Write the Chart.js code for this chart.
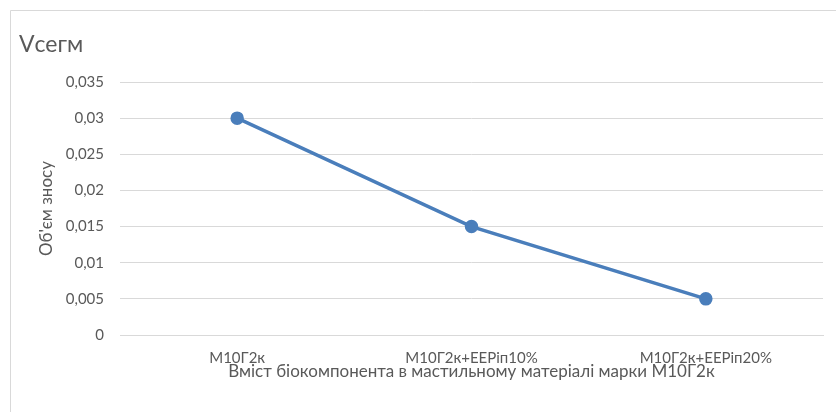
<!DOCTYPE html>
<html>
<head>
<meta charset="utf-8">
<script src="https://cdn.jsdelivr.net/npm/chart.js@4.4.1/dist/chart.umd.min.js"></script>
<style>
  html, body { margin: 0; padding: 0; background: #ffffff; }
  #wrap { width: 836px; height: 412px; position: relative; }
</style>
</head>
<body>
<div id="wrap"><canvas id="chart" width="836" height="412"></canvas></div>
<script>
// Wear volume per lubricant sample
const categories = ['М10Г2к', 'М10Г2к+EEPiп10%', 'М10Г2к+EEPiп20%'];
const wearVolume = [0.03, 0.015, 0.005];
const yTicks = [0, 0.005, 0.01, 0.015, 0.02, 0.025, 0.03, 0.035];

const chartTitle = 'Vсегм';
const yTitle = 'Об\'єм зносу';
const xTitle = 'Вміст біокомпонента в мастильному матеріалі марки М10Г2к';

const FONT = 'Lato, "Open Sans", sans-serif';
const TEXT = '#595959';
const GRID = '#d9d9d9';

// Frame lines and the chart title drawn on the canvas
const framePlugin = {
  id: 'frame',
  beforeDraw(chart) {
    const ctx = chart.ctx;
    ctx.save();
    ctx.fillStyle = '#ffffff';
    ctx.fillRect(0, 0, chart.width, chart.height);
    ctx.strokeStyle = '#d9d9d9';
    ctx.lineWidth = 1;
    ctx.beginPath();
    ctx.moveTo(10.5, 412);
    ctx.lineTo(10.5, 10.5);
    ctx.lineTo(836, 10.5);
    ctx.stroke();
    ctx.fillStyle = TEXT;
    ctx.font = '23px ' + FONT;
    ctx.textBaseline = 'middle';
    ctx.textAlign = 'left';
    ctx.fillText(chartTitle, 19, 45);
    ctx.restore();
  }
};

new Chart(document.getElementById('chart'), {
  type: 'line',
  data: {
    labels: categories,
    datasets: [{
      data: wearVolume,
      borderColor: '#4a7ebb',
      backgroundColor: '#4a7ebb',
      borderWidth: 3.5,
      pointRadius: 5,
      pointHoverRadius: 5,
      pointBackgroundColor: '#4a7ebb',
      pointBorderColor: '#4a7ebb',
      tension: 0,
      fill: false
    }]
  },
  options: {
    responsive: false,
    animation: false,
    devicePixelRatio: 1,
    layout: { padding: { left: 11, right: 13, top: 82, bottom: 32 } },
    plugins: {
      legend: { display: false },
      title: { display: false },
      tooltip: { enabled: false }
    },
    scales: {
      x: {
        offset: true,
        grid: { display: false, drawTicks: false },
        border: { display: true, color: GRID, width: 1 },
        ticks: {
          color: TEXT,
          font: { family: FONT, size: 15 },
          padding: 14,
          maxRotation: 0,
          autoSkip: false
        },
        title: {
          display: true,
          text: xTitle,
          color: TEXT,
          font: { family: FONT, size: 17, lineHeight: 1 },
          padding: { top: 0, bottom: 0 }
        },
        afterFit(scale) { scale.height = 45; }
      },
      y: {
        min: 0,
        max: 0.035,
        afterBuildTicks(scale) { scale.ticks = yTicks.map(v => ({ value: v })); },
        grid: { color: GRID, lineWidth: 1, drawTicks: false },
        border: { display: false },
        ticks: {
          color: TEXT,
          font: { family: FONT, size: 15 },
          padding: 16,
          callback: (v) => String(v).replace('.', ',')
        },
        title: {
          display: true,
          text: yTitle,
          color: TEXT,
          font: { family: FONT, size: 17, lineHeight: 1 },
          padding: { top: 27, bottom: 0 }
        },
        afterFit(scale) { scale.width = 109; }
      }
    }
  },
  plugins: [framePlugin]
});
</script>
</body>
</html>
